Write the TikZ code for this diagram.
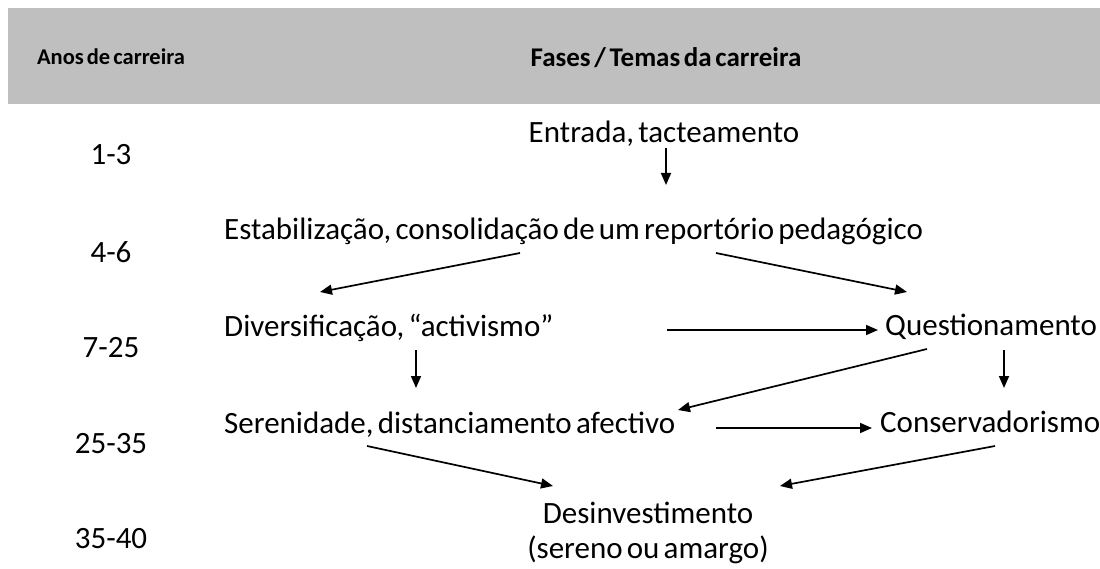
\documentclass[tikz,border=0pt]{standalone}
\usepackage{fontspec}
\setmainfont{Carlito}[WordSpace=0.6]
\usetikzlibrary{arrows.meta,positioning}
\definecolor{cabecalho}{HTML}{BFBFBF}

\tikzset{
  fase/.style={inner sep=0pt, font=\fontsize{31}{35}\selectfont},
  ano/.style={fase, anchor=base},
  seta/.style={-{Triangle[length=12pt,width=10pt]}, line width=1.7pt},
}

\begin{document}
\begin{tikzpicture}[x=1pt,y=-1pt]
		\useasboundingbox (0,0) rectangle (1100,569);
		\fill[cabecalho] (8,8) rectangle (1100,104);
		\node[inner sep=0pt, anchor=base, font=\bfseries\fontsize{22.5}{26}\selectfont] (anos) at (111,65) {Anos de carreira};
		\node[inner sep=0pt, anchor=base, font=\bfseries\fontsize{27}{31}\selectfont] (fases) at (666,67) {Fases / Temas da carreira};
		
		\node[ano] (ano1) at (111,165) {1-3};
		\node[ano] (ano2) at (111,263) {4-6};
		\node[ano] (ano3) at (111,357) {7-25};
		\node[ano] (ano4) at (111,453) {25-35};
		\node[ano] (ano5) at (111,548) {35-40};
		
		\node[fase, anchor=base] (entrada) at (664,143) {Entrada, tacteamento};
		\node[fase, anchor=base west] (estab) at (224,240) {Estabilização, consolidação de um reportório pedagógico};
		\node[fase, anchor=base west] (divers) at (224,336) {Diversificação, “activismo”};
		\node[fase, anchor=base west] (quest) at (885,335) {Questionamento};
		\node[fase, anchor=base west] (seren) at (224,433) {Serenidade, distanciamento afectivo};
		\node[fase, anchor=base west] (conserv) at (880,432) {Conservadorismo};
		\node[fase, align=center] (desinv) at (648,533) {Desinvestimento\\(sereno ou amargo)};
		
		\draw[seta] ([shift={(2,5)}]entrada.base) -- ([shift={(442,-55)}]estab.base west);
		\draw[seta] ([shift={(296,13)}]estab.base west) -- ([shift={(96,-44)}]divers.base west);
		\draw[seta] ([shift={(492,13)}]estab.base west) -- ([shift={(22,-43)}]quest.base west);
		\draw[seta] ([shift={(443,-6)}]divers.base west) -- ([shift={(-7,-5)}]quest.base west);
		\draw[seta] ([shift={(192,14)}]divers.base west) -- ([shift={(192,-45)}]seren.base west);
		\draw[seta] ([shift={(119,15)}]quest.base west) -- ([shift={(124,-44)}]conserv.base west);
		\draw[seta] ([shift={(42,14)}]quest.base west) -- ([shift={(454,-23)}]seren.base west);
		\draw[seta] ([shift={(492,-5)}]seren.base west) -- ([shift={(-8,-4)}]conserv.base west);
		\draw[seta] ([shift={(143,13)}]seren.base west) -- ([shift={(-95,-47)}]desinv.center);
		\draw[seta] ([shift={(115,14)}]conserv.base west) -- ([shift={(132,-47)}]desinv.center);
	\end{tikzpicture}
\end{document}
